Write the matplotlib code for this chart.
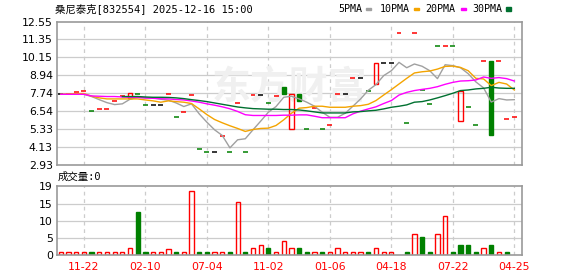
import matplotlib
matplotlib.use("Agg")
import matplotlib.pyplot as plt
from matplotlib.patches import Rectangle

# --- data ---
x_labels = ["11-22", "02-10", "07-04", "11-02", "01-06", "04-18", "07-22", "04-25"]
x_label_pos = [3, 11, 19, 27, 35, 43, 51, 59]

opens = [7.67, 7.72, 7.80, 7.89, 6.54, 6.67, 6.67, 7.25, 7.54, 7.45,
         7.67, 6.94, 6.94, 6.94, 7.67, 6.14, 6.47, 7.65, 3.99, 3.80,
         3.80, 4.87, 3.80, 7.07, 3.80, 7.65, 7.65, 7.11, 7.54, 8.18,
         5.31, 7.69, 5.33, 6.72, 5.33, 5.61, 7.67, 7.67, 8.74, 8.74,
         7.91, 8.34, 9.76, 9.76, 11.81, 5.76, 11.75, 7.96, 7.00, 10.88,
         10.88, 10.88, 5.87, 6.80, 5.60, 9.88, 9.88, 9.88, 6.00, 6.14]
closes = [7.67, 7.72, 7.80, 7.89, 6.54, 6.67, 6.67, 7.25, 7.54, 7.74,
          7.67, 6.94, 6.94, 6.94, 7.67, 6.14, 6.47, 7.65, 3.99, 3.80,
          3.80, 4.87, 3.80, 7.07, 3.80, 7.65, 7.65, 7.11, 7.54, 7.69,
          7.69, 7.20, 5.33, 6.72, 5.33, 5.61, 7.67, 7.67, 8.74, 8.74,
          7.91, 9.74, 9.76, 9.76, 11.81, 5.76, 11.75, 7.96, 7.00, 10.88,
          10.88, 10.88, 7.89, 6.80, 5.60, 9.88, 4.91, 9.88, 6.00, 6.14]
candle_colors = list("krrrgrrrrr" "ggkkrgrrgg" "krgrgrkgrg"
                     "rggrgrrkrk" "grkkrgrggg" "rgrggrgrrr")

ma5 = [7.67, 7.67, 7.67, 7.67, 7.52, 7.31, 7.11, 6.98, 7.03, 7.34,
       7.47, 7.43, 7.43, 7.34, 7.27, 7.09, 6.85, 7.03, 6.36, 5.80,
       5.29, 4.91, 4.08, 4.62, 4.69, 5.29, 5.87, 6.47, 6.85, 7.47,
       7.54, 7.36, 7.14, 6.87, 6.47, 6.13, 6.13, 6.40, 6.87, 7.36,
       7.94, 8.32, 8.92, 9.25, 9.81, 9.45, 9.70, 9.55, 9.25, 8.72,
       9.65, 9.59, 9.45, 9.05, 8.50, 8.10, 7.15, 7.38, 7.29, 7.31]
ma10 = [7.67, 7.69, 7.72, 7.72, 7.54, 7.43, 7.36, 7.36, 7.36, 7.36,
        7.36, 7.29, 7.23, 7.14, 7.23, 7.18, 7.14, 7.05, 6.69, 6.31,
        5.98, 5.76, 5.56, 5.38, 5.18, 5.31, 5.38, 5.40, 5.58, 5.96,
        6.40, 6.74, 6.78, 6.87, 6.87, 6.80, 6.80, 6.80, 6.87, 6.91,
        7.00, 7.25, 7.62, 7.98, 8.36, 8.74, 9.10, 9.18, 9.23, 9.36,
        9.54, 9.56, 9.47, 9.25, 8.74, 8.70, 8.25, 8.47, 8.36, 7.96]
ma20 = [7.67, 7.67, 7.67, 7.67, 7.56, 7.54, 7.52, 7.52, 7.49, 7.47,
        7.46, 7.42, 7.40, 7.37, 7.36, 7.32, 7.29, 7.22, 7.14, 7.03,
        6.94, 6.83, 6.70, 6.52, 6.30, 6.25, 6.25, 6.25, 6.25, 6.27,
        6.27, 6.29, 6.29, 6.20, 6.10, 6.10, 6.10, 6.10, 6.36, 6.54,
        6.69, 6.83, 7.05, 7.25, 7.62, 7.80, 7.92, 8.00, 8.07, 8.18,
        8.34, 8.47, 8.56, 8.58, 8.63, 8.83, 8.74, 8.79, 8.72, 8.56]
ma30 = [None] * 8 + [
        7.52, 7.52, 7.52, 7.49, 7.47, 7.47, 7.46, 7.43, 7.38, 7.31,
        7.25, 7.18, 7.09, 7.00, 6.91, 6.82, 6.76, 6.71, 6.69, 6.67,
        6.67, 6.65, 6.65, 6.62, 6.56, 6.49, 6.42, 6.42, 6.42, 6.42,
        6.49, 6.51, 6.56, 6.60, 6.69, 6.80, 6.87, 6.96, 7.14, 7.18,
        7.29, 7.43, 7.58, 7.74, 7.92, 7.96, 8.03, 8.07, 8.14, 8.09,
        8.07, 8.07]

volumes = [0.87, 0.87, 0.87, 0.87, 0.97, 0.87, 0.87, 0.87, 0.87, 1.94,
           12.54, 0.87, 0.87, 0.87, 1.85, 0.87, 0.87, 18.56, 0.87, 0.87,
           0.87, 0.87, 0.87, 15.55, 0.87, 1.94, 2.82, 2.04, 0.87, 4.08,
           1.94, 2.04, 0.87, 0.87, 0.87, 0.87, 1.94, 0.87, 0.87, 0.87,
           0.87, 1.94, 0.87, 0.87, 0.0, 0.87, 6.03, 5.25, 0.87, 6.03,
           11.30, 0.87, 2.92, 2.92, 0.87, 1.94, 2.92, 0.87, 0.87, 0.0]
vol_colors = list("rrrrgrrrrr" "ggrrrgrrgg" "rrgrgrrgrr"
                  "rggrgrrrrr" "grrrrgrggr" "rggggrgrgr")

price_ticks = [2.93, 4.13, 5.33, 6.54, 7.74, 8.94, 10.15, 11.35, 12.55]
vol_ticks = [0, 5, 10, 15, 20.1]
vol_ticklabels = ["0", "5", "10", "15", "19"]

ma_names = ["5PMA", "10PMA", "20PMA", "30PMA"]
ma_colors = ["#a0a0a0", "#f4a400", "#ff00ff", "#007030"]
col = {"r": "#ff0000", "g": "#008000", "k": "#000000"}

W, H = 578, 276
fig = plt.figure(figsize=(W / 100, H / 100), dpi=100)
ax = fig.add_axes([57 / W, 1 - 165 / H, 465 / W, 143.5 / H])
axv = fig.add_axes([57 / W, 1 - 255 / H, 465 / W, 69 / H])

xs = list(range(len(closes)))
grid_c = "#cccccc"
for a in (ax, axv):
    a.set_xlim(-0.5, 60)
    for s in a.spines.values():
        s.set_color("#999999")
        s.set_linewidth(1.2)
    for xp in x_label_pos:
        a.axvline(xp, color=grid_c, lw=0.9, ls=(0, (3, 3)), zorder=0)
    a.tick_params(length=0, labelsize=7.8, pad=3)

# price panel
ax.set_ylim(price_ticks[0], price_ticks[-1])
ax.set_yticks(price_ticks)
ax.set_yticklabels([f"{t:.2f}" for t in price_ticks])
ax.set_xticks([])
for t in price_ticks[1:-1]:
    ax.axhline(t, color=grid_c, lw=0.9, zorder=0)

ax.text(0.5, 0.54, "东方财富", transform=ax.transAxes, ha="center", va="center",
        fontsize=28, color="#f0f0f0", family="Noto Sans CJK SC", fontweight="bold", zorder=0)

for i in xs:
    o, c, k = opens[i], closes[i], candle_colors[i]
    if o == c:
        ax.hlines(c, i - 0.32, i + 0.32, color=col[k], lw=1.1, zorder=2)
    else:
        face = "none" if k == "r" else col[k]
        ax.bar(i, c - o, bottom=o, width=0.55, facecolor=face, edgecolor=col[k],
               lw=1.0, zorder=2)

for ma, c in zip([ma5, ma10, ma20, ma30], ma_colors):
    pts = [(i, v) for i, v in zip(xs, ma) if v is not None]
    ax.plot([p[0] for p in pts], [p[1] for p in pts], color=c, lw=1.0, zorder=3)

# volume panel
axv.set_ylim(0, vol_ticks[-1])
axv.set_yticks(vol_ticks)
axv.set_yticklabels(vol_ticklabels)
for t in vol_ticks[1:-1]:
    axv.axhline(t, color=grid_c, lw=0.9, zorder=0)
for i in xs:
    k = vol_colors[i]
    if volumes[i] <= 0:
        continue
    face = "none" if k == "r" else col[k]
    axv.bar(i, volumes[i], width=0.55, facecolor=face, edgecolor=col[k], lw=1.0, zorder=2)
axv.set_xticks(x_label_pos)
axv.set_xticklabels(x_labels, color="#ff0000", fontsize=7.8)
axv.tick_params(axis="x", pad=5)

# header texts
mono = ["DejaVu Sans Mono", "Noto Sans CJK SC"]
fig.text(55 / W, 1 - 9 / H, "桑尼泰克[832554] 2025-12-16 15:00", family=mono,
         fontsize=7.5, va="center", ha="left")
leg_x = [338, 380, 425, 472]
mark_x = [366, 414, 461, 506]
for name, c, tx, mx in zip(ma_names, ma_colors, leg_x, mark_x):
    fig.text(tx / W, 1 - 9 / H, name, family=mono, fontsize=7.2, va="center", ha="left")
    hgt = 4 if name == "30PMA" else 2
    fig.patches.append(Rectangle((mx / W, 1 - (9 + hgt / 2) / H), 5 / W, hgt / H,
                                 transform=fig.transFigure, color=c, figure=fig))
fig.text(58 / W, 1 - 177 / H, "成交量:0", family=mono, fontsize=7.5, va="center", ha="left")

fig.savefig("out.png", dpi=100)
